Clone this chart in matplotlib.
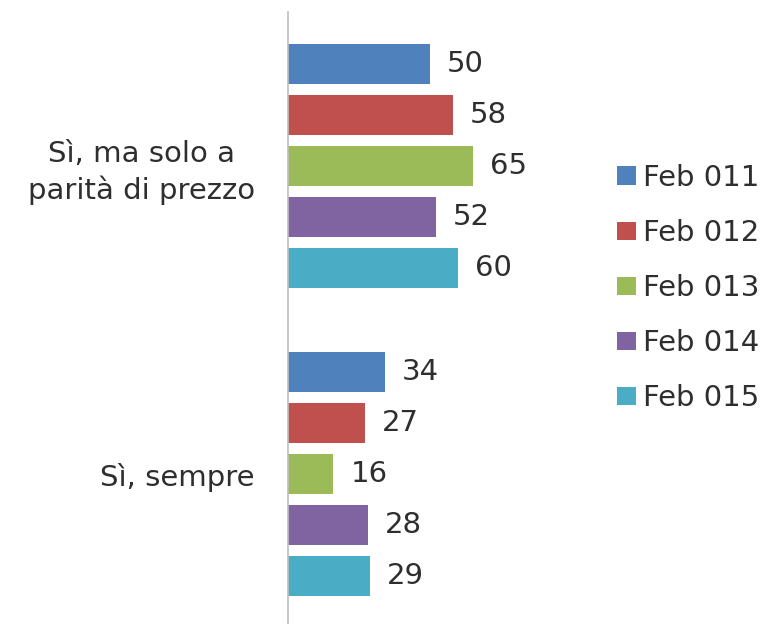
import numpy as np
import matplotlib
matplotlib.use("Agg")
import matplotlib.pyplot as plt
from matplotlib.patches import Patch

# --- dati ---
categorie = ["Sì, ma solo a\nparità di prezzo", "Sì, sempre"]
serie = ["Feb 011", "Feb 012", "Feb 013", "Feb 014", "Feb 015"]
valori = {
    "Feb 011": [50, 34],
    "Feb 012": [58, 27],
    "Feb 013": [65, 16],
    "Feb 014": [52, 28],
    "Feb 015": [60, 29],
}
colori = ["#4F81BD", "#C0504D", "#9BBB59", "#8064A2", "#4BACC6"]

plt.rcParams["font.family"] = ["DejaVu Sans"]
testo = "#2E2E2E"

W, H = 773, 624
fig = plt.figure(figsize=(W / 100, H / 100), dpi=100)
ax = fig.add_axes([288 / W, 0, 272 / W, 612 / H])

passo = 51 / 308
altezza = 40 / 308
y = np.arange(len(categorie))
for i, s in enumerate(serie):
    pos = y + (i - 2) * passo
    bars = ax.barh(pos, valori[s], height=altezza, color=colori[i])
    for b, v in zip(bars, valori[s]):
        ax.annotate(str(v), (b.get_width(), b.get_y() + b.get_height() / 2),
                    xytext=(17, 0), textcoords="offset pixels",
                    va="center", ha="left", fontsize=21, color=testo)

ax.set_xlim(0, 272 / 2.84)
ax.set_ylim(1.487, -0.5)
ax.set_yticks(y)
ax.set_yticklabels(categorie, fontsize=21, color=testo, multialignment="center",
                   linespacing=1.3)
ax.tick_params(axis="y", length=0, pad=24)
ax.set_xticks([])
for lato in ["top", "right", "bottom"]:
    ax.spines[lato].set_visible(False)
ax.spines["left"].set_color("#BFBFBF")
ax.spines["left"].set_linewidth(1.2)

handles = [Patch(facecolor=c, label=s) for c, s in zip(colori, serie)]
fig.legend(handles=handles, loc="center left", bbox_to_anchor=(591 / W, 1 - 288 / H),
           frameon=False, fontsize=21, labelcolor=testo, handlelength=0.65,
           handleheight=0.58, handletextpad=0.24, labelspacing=0.93)

fig.savefig("out.png", dpi=100)
